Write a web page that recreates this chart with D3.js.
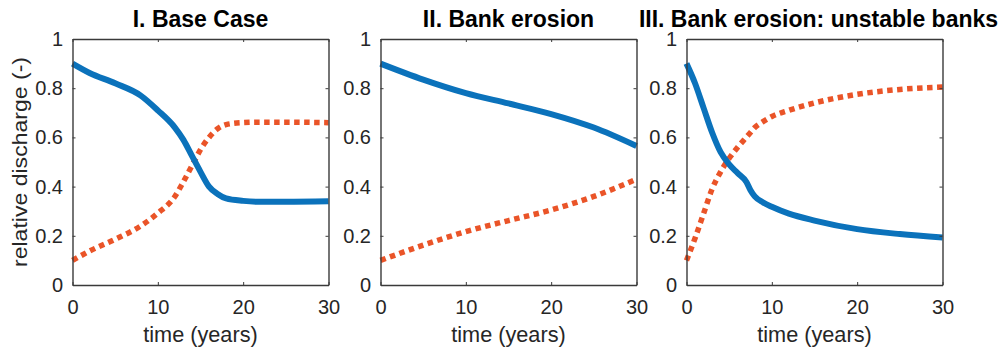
<!DOCTYPE html>
<html lang="en">
  <head>
    <meta charset="UTF-8" />
    <script src="https://cdn.jsdelivr.net/npm/d3@7"></script>
    <style>
      * {
        margin: 0;
        padding: 0;
      }
      body {
        background: #fff;
      }
      svg text {
        font-family: 'Liberation Sans', Arial, Helvetica, sans-serif;
      }
    </style>
    <title>relative discharge</title>
  </head>
  <body>
    <div id="chart"></div>
  </body>
  <script>
    // panel titles
    const titles = [
      'I. Base Case',
      'II. Bank erosion',
      'III. Bank erosion: unstable banks',
    ];
    const xTicks = [0, 10, 20, 30];
    const yTicks = [0, 0.2, 0.4, 0.6, 0.8, 1];

    // I. base case
    const timeI = [0, 2, 5, 8, 10, 12, 13, 14, 15, 16, 17, 18, 20, 22, 25, 30];
    const blueI = [0.9, 0.862, 0.82, 0.77, 0.71, 0.64, 0.59, 0.525, 0.46, 0.4, 0.37, 0.352, 0.342, 0.338, 0.338, 0.34];
    const redI = [0.1, 0.138, 0.186, 0.24, 0.292, 0.36, 0.42, 0.485, 0.55, 0.6, 0.635, 0.652, 0.66, 0.662, 0.662, 0.66];

    // II. bank erosion
    const timeII = [0, 5, 10, 15, 20, 25, 30];
    const blueII = [0.9, 0.835, 0.78, 0.738, 0.695, 0.64, 0.565];
    const redII = [0.1, 0.162, 0.217, 0.262, 0.305, 0.36, 0.43];

    // III. bank erosion, unstable banks
    const timeIII = [0, 1, 2, 3, 4, 5, 6, 7, 7.5, 8, 9, 10, 12, 15, 20, 25, 30];
    const blueIII = [0.9, 0.82, 0.72, 0.62, 0.54, 0.49, 0.455, 0.42, 0.385, 0.36, 0.335, 0.318, 0.29, 0.262, 0.227, 0.207, 0.193];
    const redIII = [0.1, 0.19, 0.29, 0.39, 0.46, 0.515, 0.56, 0.6, 0.62, 0.64, 0.665, 0.685, 0.71, 0.74, 0.775, 0.795, 0.805];

    const panels = [
      { time: timeI, blue: blueI, red: redI },
      { time: timeII, blue: blueII, red: redII },
      { time: timeIII, blue: blueIII, red: redIII },
    ];

    const width = 1001;
    const height = 348;
    const panelLeft = [72.5, 380.5, 686.5];
    const panelW = 256;
    const plotTop = 39;
    const plotBottom = 285;
    const axisColor = '#3a3a3a';
    const textColor = '#262626';

    const svg = d3
      .select('#chart')
      .append('svg')
      .attr('width', width)
      .attr('height', height);

    const yScale = d3.scaleLinear().domain([0, 1]).range([plotBottom, plotTop]);

    panels.forEach((p, i) => {
      const x0 = panelLeft[i];
      const xScale = d3
        .scaleLinear()
        .domain([0, 30])
        .range([x0, x0 + panelW]);

      const g = svg.append('g');

      const line = (vals) =>
        d3
          .line()
          .x((d, k) => xScale(p.time[k]))
          .y((d) => yScale(d))
          .curve(d3.curveMonotoneX)(vals);

      // series
      g.append('path')
        .attr('d', line(p.red))
        .attr('fill', 'none')
        .attr('stroke', '#ea5428')
        .attr('stroke-width', 5.5)
        .attr('stroke-dasharray', '5.5,4.5');

      g.append('path')
        .attr('d', line(p.blue))
        .attr('fill', 'none')
        .attr('stroke', '#0b72bb')
        .attr('stroke-width', 6)
        .attr('stroke-linejoin', 'round');

      // axes, ticks pointing inward on all four sides
      const styleAxis = (sel) => {
        sel.select('.domain').attr('stroke', axisColor).attr('stroke-width', 1.4);
        sel.selectAll('.tick line').attr('stroke', axisColor).attr('stroke-width', 1);
        sel
          .selectAll('.tick text')
          .attr('fill', textColor)
          .attr('font-size', 20);
      };

      g.append('g')
        .attr('transform', `translate(0,${plotBottom})`)
        .call(
          d3.axisBottom(xScale).tickValues(xTicks).tickSizeInner(-3).tickSizeOuter(0).tickPadding(15)
        )
        .call(styleAxis);

      g.append('g')
        .attr('transform', `translate(0,${plotTop})`)
        .call(
          d3.axisTop(xScale).tickValues(xTicks).tickSizeInner(-3).tickSizeOuter(0).tickFormat('')
        )
        .call(styleAxis);

      g.append('g')
        .attr('transform', `translate(${x0},0)`)
        .call(
          d3
            .axisLeft(yScale)
            .tickValues(yTicks)
            .tickSizeInner(-3)
            .tickSizeOuter(0)
            .tickPadding(9.5)
            .tickFormat((d) => d3.format('~g')(d))
        )
        .call(styleAxis);

      g.append('g')
        .attr('transform', `translate(${x0 + panelW},0)`)
        .call(
          d3.axisRight(yScale).tickValues(yTicks).tickSizeInner(-3).tickSizeOuter(0).tickFormat('')
        )
        .call(styleAxis);

      // title
      g.append('text')
        .attr('x', x0 + panelW / 2 + (i === 2 ? 4 : 0))
        .attr('y', 27)
        .attr('text-anchor', 'middle')
        .attr('font-size', 23)
        .attr('font-weight', 'bold')
        .attr('fill', '#000')
        .text(titles[i]);

      // x label
      g.append('text')
        .attr('x', x0 + panelW / 2)
        .attr('y', 342)
        .attr('text-anchor', 'middle')
        .attr('font-size', 21.7)
        .attr('fill', textColor)
        .text('time (years)');
    });

    // y label
    svg
      .append('text')
      .attr('transform', `translate(27,${(plotTop + plotBottom) / 2}) rotate(-90)`)
      .attr('text-anchor', 'middle')
      .attr('font-size', 21)
      .attr('textLength', 210)
      .attr('lengthAdjust', 'spacingAndGlyphs')
      .attr('fill', textColor)
      .text('relative discharge (-)');
  </script>
</html>
